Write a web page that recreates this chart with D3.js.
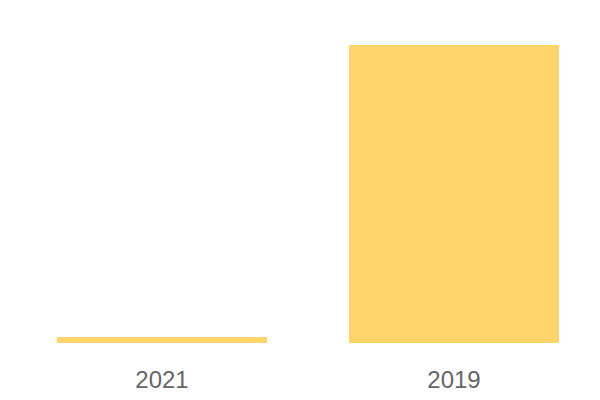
<!DOCTYPE html>
<html>
<head>
<meta charset="utf-8">
<script src="https://cdn.jsdelivr.net/npm/d3@7"></script>
<style>
  html, body { margin: 0; padding: 0; background: #fff; }
  svg { display: block; }
</style>
</head>
<body>
<svg id="chart" width="600" height="400"></svg>
<script>
const categories = ["2021", "2019"];
const values = [2, 100];

const svg = d3.select("#chart");
const x = d3.scaleBand().domain(categories).range([57, 559]).paddingInner(0.2808).paddingOuter(0);
const y = d3.scaleLinear().domain([0, 100]).range([343, 45]);

svg.selectAll("rect.bar")
  .data(categories.map((c, i) => ({ c, v: values[i] })))
  .enter().append("rect")
  .attr("class", "bar")
  .attr("x", d => x(d.c))
  .attr("width", x.bandwidth())
  .attr("y", d => y(d.v))
  .attr("height", d => y(0) - y(d.v))
  .attr("fill", "#ffd56b");

const axis = d3.axisBottom(x).tickSize(0).tickPadding(0);
const g = svg.append("g").attr("transform", "translate(0,370)").call(axis);
g.select(".domain").remove();
g.selectAll("text")
  .attr("dy", null)
  .attr("y", 18)
  .attr("font-family", "Liberation Sans, Arial, sans-serif")
  .attr("font-size", 24)
  .attr("fill", "#666666");
</script>
</body>
</html>
